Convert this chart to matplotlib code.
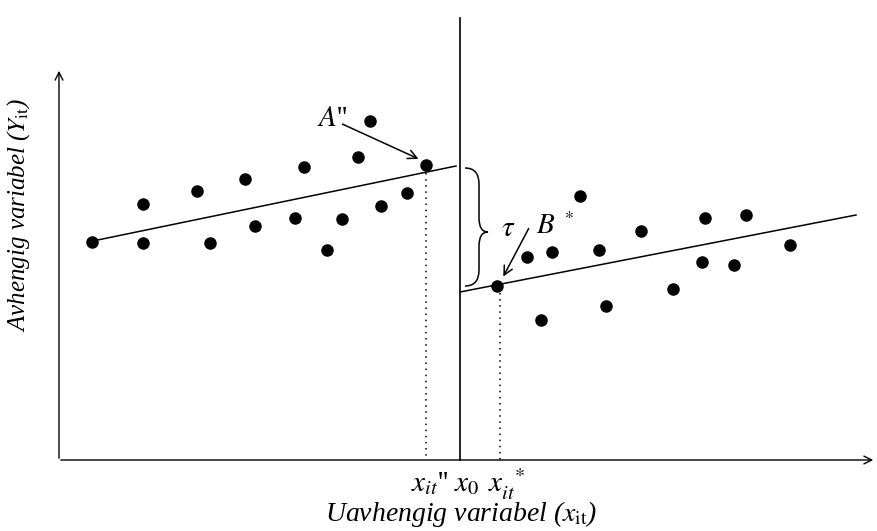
import matplotlib
matplotlib.use("Agg")
import matplotlib.pyplot as plt
from matplotlib.path import Path
from matplotlib.patches import PathPatch

plt.rcParams['mathtext.fontset'] = 'stix'
plt.rcParams['font.family'] = ['Liberation Serif', 'DejaVu Serif']

# Data (in picture coordinates, y down)
left_x = [92, 143, 143, 197, 210, 245, 255, 295, 304, 327, 342, 358, 370, 381, 407, 426]
left_y = [242, 204, 243, 191, 243, 179, 226, 218, 167, 250, 219, 157, 121, 206, 193, 165]
right_x = [497, 527, 541, 552, 580, 599, 606, 641, 673, 702, 705, 734, 746, 790]
right_y = [286, 257, 320, 252, 196, 250, 306, 231, 289, 262, 218, 265, 215, 245]
left_line_x = [88, 456]
left_line_y = [242, 166]
right_line_x = [460, 856]
right_line_y = [292, 215]
origin = (59, 460)
cutoff_x = 460
a_point = (426, 167)
b_point = (500, 287)

fig = plt.figure(figsize=(8.77, 5.31), dpi=100)
ax = fig.add_axes([0, 0, 1, 1])
ax.set_xlim(0, 877)
ax.set_ylim(531, 0)
ax.axis('off')

# axes with arrows
ax.annotate('', xy=(876, origin[1]), xytext=(origin[0] - 1, origin[1]),
            arrowprops=dict(arrowstyle='->', lw=1.0, color='black', mutation_scale=14))
ax.annotate('', xy=(origin[0], 68), xytext=(origin[0], origin[1] + 1),
            arrowprops=dict(arrowstyle='->', lw=1.0, color='black', mutation_scale=14))

# cutoff line
ax.plot([cutoff_x, cutoff_x], [origin[1], 18], color='black', lw=1.2)

# regression lines
ax.plot(left_line_x, left_line_y, color='black', lw=1.1)
ax.plot(right_line_x, right_line_y, color='black', lw=1.1)

# points
ax.scatter(left_x, left_y, s=64, color='black', zorder=3)
ax.scatter(right_x, right_y, s=64, color='black', zorder=3)

# dotted projections
ax.plot([a_point[0], a_point[0]], [a_point[1] + 6, origin[1]], color='black', lw=1.1, ls=(0, (1, 3)))
ax.plot([b_point[0], b_point[0]], [b_point[1] + 6, origin[1]], color='black', lw=1.1, ls=(0, (1, 3)))

# annotation arrows
ax.annotate('', xy=(421, 160), xytext=(340, 123),
            arrowprops=dict(arrowstyle='->', lw=1.1, color='black', mutation_scale=16))
ax.text(332, 119, "$\\mathit{A}$''", fontsize=21, ha='center', va='center')
ax.annotate('', xy=(502, 279), xytext=(530, 226),
            arrowprops=dict(arrowstyle='->', lw=1.1, color='black', mutation_scale=16))
ax.text(508, 229, r'$\tau$', fontsize=21, ha='center', va='center')
ax.text(546, 226, r'$\mathit{B}$', fontsize=21, ha='center', va='center')
ax.text(569, 216, r'$*$', fontsize=13, ha='center', va='center')

# curly brace
verts = [(465, 168), (479, 168), (479, 184),
         (479, 218),
         (479, 232), (488, 232),
         (479, 232), (479, 246),
         (479, 270),
         (479, 286), (465, 286)]
codes = [Path.MOVETO, Path.CURVE3, Path.CURVE3,
         Path.LINETO,
         Path.CURVE3, Path.CURVE3,
         Path.CURVE3, Path.CURVE3,
         Path.LINETO,
         Path.CURVE3, Path.CURVE3]
ax.add_patch(PathPatch(Path(verts, codes), fill=False, lw=1.1, color='black'))

# x tick-like labels
ax.text(430, 484, r"$x_{it}$''", fontsize=21, ha='center', va='center')
ax.text(467, 484, r'$x_0$', fontsize=21, ha='center', va='center')
ax.text(507, 484, r'$x_{it}^{\;\;*}$', fontsize=21, ha='center', va='center')

# axis labels
ax.text(461, 514, r'Uavhengig variabel ($x_{\mathrm{it}}$)', fontsize=20, style='italic',
        ha='center', va='center')
ax.text(19, 215, r'Avhengig variabel ($Y_{\mathrm{it}}$)', fontsize=18, style='italic',
        ha='center', va='center', rotation=90)

fig.savefig('out.png', dpi=100)
